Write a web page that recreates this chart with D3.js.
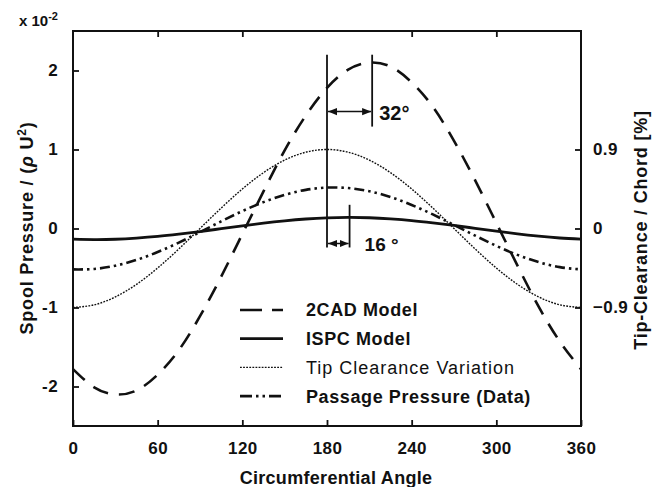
<!DOCTYPE html>
<html>
<head>
<meta charset="utf-8">
<script src="https://cdn.jsdelivr.net/npm/d3@7"></script>
<style>
  body { margin: 0; background: #fff; }
  text { font-family: "Liberation Sans", Arial, sans-serif; font-weight: bold; fill: #111; }
</style>
</head>
<body>
<svg id="chart" width="659" height="487"></svg>
<script>
// data, every 15 degrees
var angles = [0, 15, 30, 45, 60, 75, 90, 105, 120, 135, 150, 165, 180,
              195, 210, 225, 240, 255, 270, 285, 300, 315, 330, 345, 360];
var cad2 = [-1.78, -2.01, -2.10, -2.05, -1.85, -1.54, -1.11, -0.61, -0.07, 0.47, 0.99, 1.43, 1.78,
            2.01, 2.10, 2.05, 1.85, 1.54, 1.11, 0.61, 0.07, -0.47, -0.99, -1.43, -1.78];
var ispc = [-0.135, -0.14, -0.136, -0.122, -0.101, -0.072, -0.039, -0.002, 0.034, 0.068, 0.097, 0.120, 0.135,
            0.14, 0.136, 0.122, 0.101, 0.072, 0.039, 0.002, -0.034, -0.068, -0.097, -0.120, -0.135];
var tipClear = [-1, -0.966, -0.866, -0.707, -0.5, -0.259, 0, 0.259, 0.5, 0.707, 0.866, 0.966, 1,
                0.966, 0.866, 0.707, 0.5, 0.259, 0, -0.259, -0.5, -0.707, -0.866, -0.966, -1];
var passage = [-0.518, -0.512, -0.471, -0.398, -0.298, -0.178, -0.045, 0.090, 0.220, 0.334, 0.426, 0.489, 0.518,
               0.512, 0.471, 0.398, 0.298, 0.178, 0.045, -0.090, -0.220, -0.334, -0.426, -0.489, -0.518];

var xTicks = [0, 60, 120, 180, 240, 300, 360];
var yTicks = [-2, -1, 0, 1, 2];
var rightTicks = [-0.9, 0, 0.9];

var legendNames = ["2CAD Model", "ISPC Model", "Tip Clearance Variation", "Passage Pressure (Data)"];

var svg = d3.select("#chart");
var mLeft = 73, mRight = 581, mTop = 31, mBottom = 426;

var x = d3.scaleLinear().domain([0, 360]).range([mLeft, mRight]);
var y = d3.scaleLinear().domain([-2.5, 2.5]).range([mBottom, mTop]);
var yRight = d3.scaleLinear().domain([-2.25, 2.25]).range([mBottom, mTop]);

var styles = [
    { data: cad2, width: 2.6, dash: "16,11", legendDash: "22,10,11" },
    { data: ispc, width: 2.8, dash: null, legendDash: null },
    { data: tipClear, width: 1.4, dash: "1.8,1.3", legendDash: "1.8,1.3" },
    { data: passage, width: 2.6, dash: "10,4,2.5,4,2.5,4", legendDash: "12,4,2.5,4,2.5,4" }
];

// frame
svg.append("rect")
    .attr("x", mLeft).attr("y", mTop)
    .attr("width", mRight - mLeft).attr("height", mBottom - mTop)
    .attr("fill", "none").attr("stroke", "#111").attr("stroke-width", 2);

// axes with inward ticks
var bottomAxis = d3.axisBottom(x).tickValues(xTicks).tickSizeInner(-6).tickSizeOuter(0).tickPadding(14);
var topAxis = d3.axisTop(x).tickValues([60, 120, 240, 300]).tickSizeInner(-6).tickSizeOuter(0).tickFormat("");
var leftAxis = d3.axisLeft(y).tickValues(yTicks).tickSizeInner(-6).tickSizeOuter(0).tickPadding(15);
var rightAxis = d3.axisRight(yRight).tickValues(rightTicks).tickSizeInner(-6).tickSizeOuter(0).tickPadding(12)
    .tickFormat(function(d) { return d === 0 ? "0" : d3.format(".1f")(d); });

var gB = svg.append("g").attr("transform", "translate(0," + mBottom + ")").call(bottomAxis);
var gT = svg.append("g").attr("transform", "translate(0," + mTop + ")").call(topAxis);
var gL = svg.append("g").attr("transform", "translate(" + mLeft + ",0)").call(leftAxis);
var gR = svg.append("g").attr("transform", "translate(" + mRight + ",0)").call(rightAxis);

[gB, gT, gL, gR].forEach(function(g) {
    g.select(".domain").remove();
    g.selectAll(".tick line").attr("stroke", "#111").attr("stroke-width", 1.8);
    g.selectAll(".tick text").style("font-size", "17px").style("font-family", "'Liberation Sans', Arial, sans-serif")
        .style("font-weight", "bold").style("letter-spacing", "0.4px").attr("fill", "#111");
});
gB.selectAll(".tick text").attr("dy", "0.85em");
gL.selectAll(".tick text").text(function(d) { return d; });

// curves
var line = d3.line()
    .x(function(d) { return x(d[0]); })
    .y(function(d) { return y(d[1]); })
    .curve(d3.curveNatural);

styles.forEach(function(s) {
    var pts = angles.map(function(a, i) { return [a, s.data[i]]; });
    svg.append("path")
        .datum(pts)
        .attr("d", line)
        .attr("fill", "none")
        .attr("stroke", "#111")
        .attr("stroke-width", s.width)
        .attr("stroke-dasharray", s.dash);
});

// phase-shift annotations
var defs = svg.append("defs");
defs.append("marker").attr("id", "arr").attr("viewBox", "0 0 10 10")
    .attr("refX", 10).attr("refY", 5).attr("markerWidth", 6).attr("markerHeight", 6)
    .attr("orient", "auto-start-reverse")
    .append("path").attr("d", "M0,1 L10,5 L0,9 Z").attr("fill", "#111");

function vline(a, v0, v1) {
    svg.append("line")
        .attr("x1", x(a)).attr("x2", x(a))
        .attr("y1", y(v0)).attr("y2", y(v1))
        .attr("stroke", "#111").attr("stroke-width", 1.8);
}
function arrow(a0, a1, v) {
    svg.append("line")
        .attr("x1", x(a0) + 1).attr("x2", x(a1) - 1)
        .attr("y1", y(v)).attr("y2", y(v))
        .attr("stroke", "#111").attr("stroke-width", 1.5)
        .attr("marker-start", "url(#arr)").attr("marker-end", "url(#arr)");
}
vline(180, 2.2, -0.24);
vline(212, 2.2, 1.29);
arrow(180, 212, 1.48);
vline(196, 0.30, -0.24);
arrow(180, 196, -0.19);

svg.append("text").attr("x", x(212) + 7).attr("y", y(1.48) + 8)
    .style("font-size", "20px").text("32°");
svg.append("text").attr("x", x(196) + 15).attr("y", y(-0.19) + 7)
    .style("font-size", "19px").text("16 °");

// legend
var legend = svg.append("g");
legendNames.forEach(function(name, i) {
    var ly = 310 + i * 28.7;
    legend.append("line")
        .attr("x1", 240).attr("x2", 283).attr("y1", ly).attr("y2", ly)
        .attr("stroke", "#111")
        .attr("stroke-width", styles[i].width)
        .attr("stroke-dasharray", styles[i].legendDash);
    legend.append("text")
        .attr("x", 306).attr("y", ly).attr("dy", "0.36em")
        .style("font-size", "18px")
        .style("font-weight", i === 2 ? "normal" : "bold")
        .style("letter-spacing", i === 2 ? "1px" : "0.6px")
        .text(name);
});

// axis titles
svg.append("text")
    .attr("x", (mLeft + mRight) / 2 + 9).attr("y", 484)
    .attr("text-anchor", "middle").style("font-size", "18px").style("letter-spacing", "0.3px")
    .text("Circumferential Angle");

svg.append("text")
    .attr("transform", "translate(33,228) rotate(-90)")
    .attr("text-anchor", "middle").style("font-size", "18px").style("letter-spacing", "0.8px")
    .html("Spool Pressure / (<tspan style='font-style:italic'>ρ</tspan> U<tspan dy='-7' style='font-size:12px'>2</tspan><tspan dy='7'>)</tspan>");

svg.append("text")
    .attr("transform", "translate(647,230) rotate(-90)")
    .attr("text-anchor", "middle").style("font-size", "18px").style("letter-spacing", "0.8px")
    .text("Tip-Clearance / Chord [%]");

svg.append("text")
    .attr("x", 19).attr("y", 26).style("font-size", "15px")
    .html("x 10<tspan dy='-6' style='font-size:11px'>-2</tspan>");
</script>
</body>
</html>
